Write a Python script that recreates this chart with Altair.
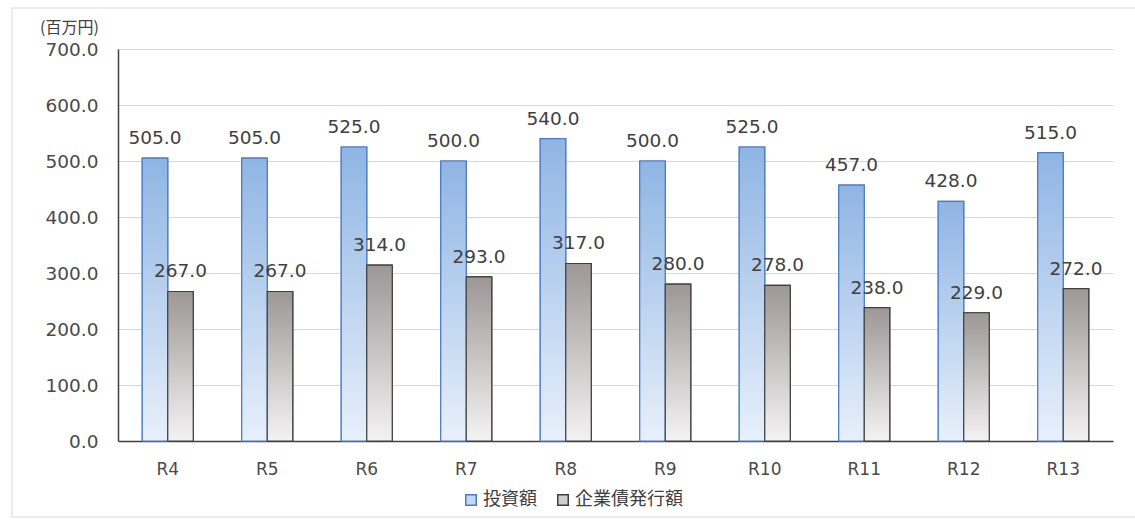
import altair as alt
import pandas as pd

# Fiscal years and the two series (million yen)
years = ["R4", "R5", "R6", "R7", "R8", "R9", "R10", "R11", "R12", "R13"]
investment = [505.0, 505.0, 525.0, 500.0, 540.0, 500.0, 525.0, 457.0, 428.0, 515.0]
bonds = [267.0, 267.0, 314.0, 293.0, 317.0, 280.0, 278.0, 238.0, 229.0, 272.0]
series_names = ["投資額", "企業債発行額"]
y_ticks = [0, 100, 200, 300, 400, 500, 600, 700]

rows = []
for yr, a, b in zip(years, investment, bonds):
    rows.append({"year": yr, "series": series_names[0], "value": a})
    rows.append({"year": yr, "series": series_names[1], "value": b})
df = pd.DataFrame(rows)

FONT = "DejaVu Sans"
JP_FONT = "Noto Sans CJK JP"
TEXT = "#404040"
W, H = 995, 392

x_enc = alt.X(
    "year:N",
    sort=years,
    scale=alt.Scale(paddingInner=0, paddingOuter=0),
    axis=alt.Axis(
        title=None, labelAngle=0, labelFont=FONT, labelFontSize=17,
        labelFontWeight="normal", labelColor="#4a4a4a", labelPadding=20,
        ticks=False, domainColor="#404040", domainWidth=1.5,
    ),
)
xoff_enc = alt.XOffset(
    "series:N", sort=series_names,
    scale=alt.Scale(domain=series_names, paddingOuter=0.95, paddingInner=0),
)
y_enc = alt.Y(
    "value:Q",
    scale=alt.Scale(domain=[0, 700], nice=False),
    axis=alt.Axis(
        title=None, values=y_ticks, format=".1f", labelFont=FONT,
        labelFontSize=18.5, labelFontWeight="normal", labelColor="#4a4a4a",
        labelPadding=20, ticks=False, domainColor="#404040", domainWidth=1.5,
        gridColor="#d9d9d9", gridWidth=1,
    ),
)

blue_grad = alt.Gradient(
    gradient="linear", x1=0, x2=0, y1=0, y2=1,
    stops=[alt.GradientStop(color="#8fb5e4", offset=0),
           alt.GradientStop(color="#e8f0fb", offset=1)],
)
grey_grad = alt.Gradient(
    gradient="linear", x1=0, x2=0, y1=0, y2=1,
    stops=[alt.GradientStop(color="#9d9797", offset=0),
           alt.GradientStop(color="#f4f3f3", offset=1)],
)

legend_opts = dict(
    title=None, orient="none", direction="horizontal",
    legendX=344, legendY=442, symbolType="square", symbolSize=110,
    labelFont=JP_FONT, labelFontSize=18, labelColor=TEXT,
    columnPadding=17, labelOffset=3, symbolStrokeWidth=1.5,
)

base = alt.Chart(df)

# Flat bars drive the legend; gradient bars are drawn on top of them
legend_bars = base.mark_bar(strokeWidth=1.2).encode(
    x=x_enc, xOffset=xoff_enc, y=y_enc,
    fill=alt.Fill("series:N", sort=series_names,
                  scale=alt.Scale(domain=series_names, range=["#c5d9f1", "#d0cece"]),
                  legend=alt.Legend(**legend_opts)),
    stroke=alt.Stroke("series:N", sort=series_names,
                      scale=alt.Scale(domain=series_names, range=["#4a7bc4", "#3f3f3f"]),
                      legend=alt.Legend(**legend_opts)),
)

blue_bars = base.transform_filter(alt.datum.series == series_names[0]).mark_bar(
    fill=blue_grad, stroke="#4a7bc4", strokeWidth=1.2
).encode(x=x_enc, xOffset=xoff_enc, y=y_enc)

grey_bars = base.transform_filter(alt.datum.series == series_names[1]).mark_bar(
    fill=grey_grad, stroke="#3f3f3f", strokeWidth=1.2
).encode(x=x_enc, xOffset=xoff_enc, y=y_enc)

labels = base.mark_text(
    font=FONT, fontSize=18.5, color=TEXT, baseline="alphabetic", dy=-14
).encode(
    x=x_enc, xOffset=xoff_enc, y=y_enc,
    text=alt.Text("value:Q", format=".1f"),
)

# Unit caption above the value axis
unit = alt.Chart(pd.DataFrame({"t": ["(百万円)"]})).mark_text(
    font=JP_FONT, fontSize=16, color=TEXT, align="left", baseline="middle"
).encode(x=alt.value(-78), y=alt.value(-21), text="t:N")

# Light frame around the whole figure
frame = alt.Chart(pd.DataFrame({"k": [0]})).mark_rect(
    fill=None, stroke="#e6e6e6", strokeWidth=1.5
).encode(x=alt.value(-106), x2=alt.value(1040), y=alt.value(-41), y2=alt.value(468))

chart = alt.layer(frame, legend_bars, blue_bars, grey_bars, labels, unit).properties(
    width=W, height=H,
    autosize=alt.AutoSizeParams(type="none"),
    padding={"left": 118, "top": 49, "right": 22, "bottom": 82},
    background="white",
).configure_view(stroke=None)

chart.save("out.html", embed_options={"renderer": "svg", "actions": False})
